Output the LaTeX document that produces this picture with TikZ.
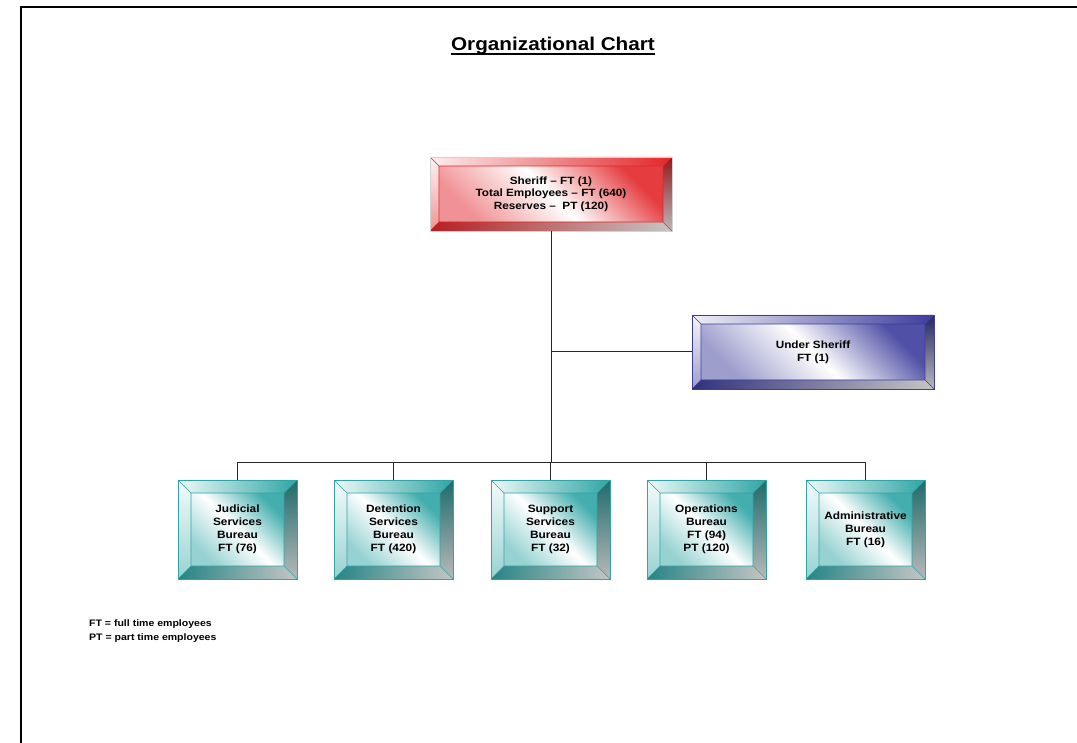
\documentclass[tikz,border=0pt]{standalone}
\usepackage{fontspec}
\setmainfont{Liberation Sans}[FakeStretch=1.12]
\usepackage{tikz}
\usetikzlibrary{positioning,calc}

\definecolor{sheriffred}{HTML}{E2262A}
\definecolor{undernavy}{HTML}{3D3D9C}
\definecolor{bureauteal}{HTML}{2FA5A5}

% bevel frame of an org box, drawn as path picture
\newcommand{\bevw}{9}
\newcommand{\bevelfill}[1]{%
  \coordinate (pnw) at (path picture bounding box.north west);
  \coordinate (pne) at (path picture bounding box.north east);
  \coordinate (psw) at (path picture bounding box.south west);
  \coordinate (pse) at (path picture bounding box.south east);
  \coordinate (qnw) at ($(pnw)+(\bevw,-\bevw)$);
  \coordinate (qne) at ($(pne)+(-\bevw,-\bevw)$);
  \coordinate (qsw) at ($(psw)+(\bevw,\bevw)$);
  \coordinate (qse) at ($(pse)+(-\bevw,\bevw)$);
  \shade[top color=#1!90, bottom color=#1!50, middle color=white, shading angle=-45] (qnw) rectangle (qse);
  \shade[left color=#1!8, right color=#1] (pnw) -- (pne) -- (qne) -- (qnw) -- cycle;
  \shade[top color=#1!5, bottom color=#1!50] (pnw) -- (qnw) -- (qsw) -- (psw) -- cycle;
  \shade[top color=#1!65!black, bottom color=gray!55] (pne) -- (pse) -- (qse) -- (qne) -- cycle;
  \shade[left color=#1!80!black, right color=gray!45] (psw) -- (pse) -- (qse) -- (qsw) -- cycle;
  \draw[#1, line width=0.6pt] (qnw) rectangle (qse)
    (pnw) -- (qnw) (pne) -- (qne) (psw) -- (qsw) (pse) -- (qse);
}

\begin{document}
\begin{tikzpicture}[
    x=1pt, y=1pt,
    bevel/.code={\renewcommand{\bevw}{#1}},
    orgbox/.style={draw=#1, line width=0.8pt, inner sep=0pt, align=center,
      font=\bfseries\fontsize{10.5}{12.6}\selectfont, path picture={\bevelfill{#1}}},
    topbox/.style={orgbox=#1, bevel=9, minimum width=242pt, minimum height=74pt},
    bureau/.style={orgbox=bureauteal, bevel=13, minimum width=119pt, minimum height=99pt,
      font=\bfseries\fontsize{10.6}{13}\selectfont},
    link/.style={draw=black!85, line width=1pt},
]
\useasboundingbox (0,0) rectangle (1077,-743);

% --- PAGE FRAME ---
\draw[line width=1.8pt] (21,-743) -- (21,-7) -- (1077,-7);

\node[font=\bfseries\fontsize{18.5}{20}\selectfont, inner sep=0pt] (title) at (553,-46) {Organizational Chart};
\draw[line width=1.8pt] ($(title.base west)+(0,-3.5)$) -- ($(title.base east)+(0,-3.5)$);

% --- TOP LEVEL ---
\node[topbox=sheriffred, draw=gray!35] (sheriff) at (551,-194)
    {Sheriff -- FT (1)\\Total Employees -- FT (640)\\Reserves -- \ PT (120)};
\node[topbox=undernavy] (under) at (813,-352) {Under Sheriff\\FT (1)};

% --- BUREAUS ---
\foreach \n/\x/\txt in {
    judicial/237.5/{Judicial\\Services\\Bureau\\FT (76)},
    detention/393.5/{Detention\\Services\\Bureau\\FT (420)},
    support/550.5/{Support\\Services\\Bureau\\FT (32)},
    operations/706.5/{Operations\\Bureau\\FT (94)\\PT (120)},
    admin/865.5/{Administrative\\Bureau\\FT (16)}} {
    \node[bureau] (\n) at (\x,-529.5) {\txt};
}

% connectors
\coordinate (bus) at (551,-462);
\draw[link] (sheriff.south) -- (bus);
\draw[link] (sheriff.south |- under.west) -- (under.west);
\draw[link] (judicial.north |- bus) -- (admin.north |- bus);
\foreach \n in {judicial,detention,support,operations,admin} {
    \draw[link] (\n.north |- bus) -- (\n.north);
}

% legend
\node[font=\bfseries\fontsize{9.4}{14}\selectfont, align=left, anchor=west, inner sep=0pt] (legend) at (89,-631)
    {FT = full time employees\\PT = part time employees};

\end{tikzpicture}
\end{document}
